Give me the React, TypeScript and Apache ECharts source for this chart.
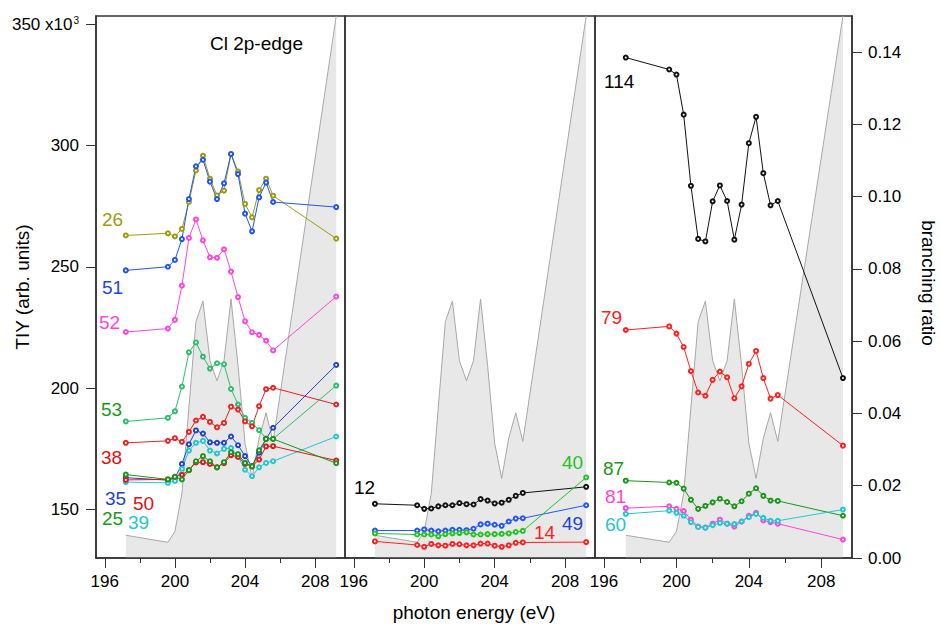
import React, { useEffect, useRef } from "react";
import * as echarts from "echarts";

// photon energies (eV) shared by all curves
const energy = [197.2, 199.6, 200.0, 200.4, 200.8, 201.2, 201.6, 202.0, 202.4, 202.8, 203.2, 203.6, 204.0, 204.4, 204.8, 205.2, 205.6, 209.2];

// absorption (TIY shape, arbitrary units, shown grey in each panel)
const absorption = [4.2, 2.9, 4.9, 11.9, 27.8, 43.6, 47.4, 36.4, 32.7, 36.4, 47.8, 35.5, 21.2, 14.7, 22.1, 26.8, 21.5, 100];

// panel 1: TIY (x10^3)
const tiy26 = [263.0, 263.9, 262.6, 265.7, 276.8, 289.8, 295.9, 286.4, 279.5, 281.5, 296.6, 289.4, 276.0, 270.5, 281.7, 286.4, 279.4, 261.7];
const tiy51 = [248.6, 250.1, 252.9, 261.5, 278.0, 291.5, 294.2, 285.2, 278.0, 284.5, 296.6, 288.3, 272.0, 264.7, 278.7, 284.8, 276.8, 274.7];
const tiy52 = [223.2, 224.6, 228.2, 242.3, 262.0, 269.6, 261.0, 254.0, 253.8, 257.3, 248.1, 237.6, 227.6, 223.1, 222.0, 219.6, 215.6, 237.8];
const tiy53 = [186.3, 187.8, 190.5, 200.7, 214.8, 218.9, 213.0, 208.1, 210.3, 209.9, 199.7, 193.3, 187.8, 185.7, 182.7, 179.3, 179.1, 201.1];
const tiy38 = [177.5, 178.3, 179.4, 177.9, 182.0, 186.7, 188.2, 186.1, 183.9, 185.7, 192.4, 191.2, 186.3, 184.3, 192.6, 199.6, 200.2, 193.3];
const tiy35 = [163.1, 162.1, 162.9, 168.8, 176.9, 182.6, 181.3, 177.7, 177.5, 177.5, 180.1, 176.5, 172.0, 167.8, 173.4, 179.1, 183.7, 209.6];
const tiy39 = [161.3, 161.0, 161.8, 166.8, 174.3, 177.5, 178.3, 174.3, 173.1, 175.0, 175.3, 172.0, 166.4, 163.7, 167.4, 169.2, 169.9, 180.1];
const tiy50 = [162.2, 162.4, 163.5, 164.3, 166.2, 169.4, 169.5, 168.8, 167.4, 169.1, 172.4, 171.7, 168.8, 167.8, 170.6, 176.0, 176.1, 170.2];
const tiy25 = [164.4, 162.4, 163.5, 162.4, 166.2, 169.9, 172.0, 169.9, 167.4, 169.5, 173.6, 172.8, 169.2, 167.8, 174.4, 179.1, 179.1, 169.1];

// panel 2: branching ratio
const br12 = [0.0150, 0.0146, 0.0136, 0.0137, 0.0143, 0.0146, 0.0146, 0.0152, 0.0149, 0.0148, 0.0163, 0.0159, 0.0151, 0.0153, 0.0161, 0.0172, 0.0180, 0.0197];
const br49 = [0.0076, 0.0076, 0.0079, 0.0076, 0.0074, 0.0076, 0.0078, 0.0078, 0.0077, 0.0081, 0.0093, 0.0095, 0.0092, 0.0089, 0.0101, 0.0109, 0.0110, 0.0146];
const br40 = [0.0068, 0.0065, 0.0065, 0.0065, 0.0060, 0.0066, 0.0068, 0.0069, 0.0071, 0.0065, 0.0065, 0.0066, 0.0066, 0.0067, 0.0068, 0.0072, 0.0075, 0.0223];
const br14 = [0.0046, 0.0036, 0.0031, 0.0039, 0.0035, 0.0034, 0.0039, 0.0038, 0.0035, 0.0035, 0.0040, 0.0040, 0.0034, 0.0031, 0.0035, 0.0042, 0.0043, 0.0044];

// panel 3: branching ratio
const br114 = [0.1385, 0.1352, 0.1338, 0.1227, 0.1030, 0.0883, 0.0876, 0.0987, 0.1031, 0.0988, 0.0881, 0.0978, 0.1148, 0.1221, 0.1065, 0.0976, 0.0988, 0.0498];
const br79 = [0.0631, 0.0641, 0.0621, 0.0584, 0.0517, 0.0458, 0.0449, 0.0493, 0.0516, 0.0500, 0.0442, 0.0475, 0.0537, 0.0573, 0.0498, 0.0441, 0.0451, 0.0311];
const br87 = [0.0214, 0.0209, 0.0208, 0.0192, 0.0161, 0.0136, 0.0144, 0.0154, 0.0164, 0.0155, 0.0143, 0.0157, 0.0178, 0.0193, 0.0172, 0.0159, 0.0158, 0.0117];
const br81 = [0.0138, 0.0143, 0.0136, 0.0130, 0.0106, 0.0087, 0.0084, 0.0095, 0.0106, 0.0095, 0.0087, 0.0101, 0.0117, 0.0125, 0.0104, 0.0099, 0.0095, 0.0051];
const br60 = [0.0122, 0.0131, 0.0125, 0.0117, 0.0099, 0.0086, 0.0084, 0.0091, 0.0097, 0.0095, 0.0094, 0.0101, 0.0113, 0.0122, 0.0111, 0.0103, 0.0103, 0.0134];

// tick values
const xMajorTicks = [196, 200, 204, 208];
const xMinorTicks = [198, 202, 206];
const tiyTicks = [150, 200, 250, 300, 350];
const brTicks = [0, 0.02, 0.04, 0.06, 0.08, 0.1, 0.12, 0.14];

const FONT = "'Liberation Sans', Arial, Helvetica, sans-serif";

const panel1 = [
  { name: "26", data: tiy26, color: "#9c9c10" },
  { name: "51", data: tiy51, color: "#1f55f0" },
  { name: "52", data: tiy52, color: "#ff44dd" },
  { name: "53", data: tiy53, color: "#2dbd6e" },
  { name: "38", data: tiy38, color: "#ee2222" },
  { name: "35", data: tiy35, color: "#2244cc" },
  { name: "39", data: tiy39, color: "#22c8d0" },
  { name: "50", data: tiy50, color: "#e01818" },
  { name: "25", data: tiy25, color: "#1a961a" },
];
const panel2 = [
  { name: "12", data: br12, color: "#111111" },
  { name: "49", data: br49, color: "#2255ff" },
  { name: "40", data: br40, color: "#22c422" },
  { name: "14", data: br14, color: "#ff2020" },
];
const panel3 = [
  { name: "114", data: br114, color: "#111111" },
  { name: "79", data: br79, color: "#ff2020" },
  { name: "87", data: br87, color: "#1a961a" },
  { name: "81", data: br81, color: "#ff44dd" },
  { name: "60", data: br60, color: "#22c8d0" },
];

const labels = [
  { t: "26", c: "#9c9c10", x: 102, y: 219 },
  { t: "51", c: "#1f45e0", x: 102, y: 287 },
  { t: "52", c: "#ff44dd", x: 99, y: 322 },
  { t: "53", c: "#1a9a1a", x: 101, y: 409 },
  { t: "38", c: "#dd1111", x: 101, y: 457 },
  { t: "35", c: "#2244cc", x: 105, y: 498 },
  { t: "50", c: "#dd1111", x: 133, y: 503 },
  { t: "25", c: "#1a9a1a", x: 102, y: 518 },
  { t: "39", c: "#22c8d0", x: 128, y: 522 },
  { t: "12", c: "#000000", x: 354, y: 487 },
  { t: "40", c: "#22c422", x: 562, y: 462 },
  { t: "49", c: "#2244cc", x: 562, y: 523 },
  { t: "14", c: "#ff2020", x: 534, y: 532 },
  { t: "114", c: "#000000", x: 604, y: 81 },
  { t: "79", c: "#ff2020", x: 601, y: 317 },
  { t: "87", c: "#1a961a", x: 603, y: 468 },
  { t: "81", c: "#ff44dd", x: 605, y: 496 },
  { t: "60", c: "#22c8d0", x: 605, y: 524 },
];

function pairs(vals: number[]) {
  return energy.map((e, i) => [e, vals[i]]);
}

export default function App() {
  const ref = useRef<HTMLDivElement>(null);
  useEffect(() => {
    if (!ref.current) return;
    const chart = echarts.init(ref.current, null, { renderer: "svg" });

    const grids = [
      { left: 96, top: 16, width: 249, height: 542 },
      { left: 345, top: 16, width: 250, height: 542 },
      { left: 595, top: 16, width: 257, height: 542 },
    ].map((g) => ({ ...g, show: true, borderColor: "#333", borderWidth: 1.5, backgroundColor: "transparent" }));

    const xAxes: any[] = [];
    [0, 1, 2].forEach((gi) => {
      xAxes.push({
        type: "value", gridIndex: gi, min: 195.5, max: 209.7, position: "bottom", z: 3,
        axisLine: { show: true, lineStyle: { color: "#333", width: 1.5 } },
        axisTick: { show: true, length: 10, customValues: xMajorTicks, lineStyle: { color: "#333", width: 1 } },
        axisLabel: { show: true, customValues: xMajorTicks, margin: 15, fontSize: 17, color: "#000", fontFamily: FONT },
        splitLine: { show: false },
      });
      xAxes.push({
        type: "value", gridIndex: gi, min: 195.5, max: 209.7, position: "bottom", z: 3,
        axisLine: { show: false },
        axisTick: { show: true, length: 5, customValues: xMinorTicks, lineStyle: { color: "#333", width: 1 } },
        axisLabel: { show: false },
        splitLine: { show: false },
      });
    });

    const hiddenY = (gi: number, min: number, max: number) => ({
      type: "value", gridIndex: gi, min, max, show: false, splitLine: { show: false },
    });

    const yAxes: any[] = [
      {
        type: "value", gridIndex: 0, min: 130, max: 353.5, position: "left", z: 3,
        axisLine: { show: true, lineStyle: { color: "#333", width: 1.5 } },
        axisTick: { show: true, length: 10, customValues: tiyTicks, lineStyle: { color: "#333" } },
        axisLabel: {
          customValues: tiyTicks, margin: 17, fontSize: 17, color: "#000", fontFamily: FONT,
          formatter: (v: number) => (v === 350 ? "{n|350 x10}{s|3}" : String(v)),
          rich: {
            n: { fontSize: 17, fontFamily: FONT, color: "#000" },
            s: { fontSize: 10, fontFamily: FONT, color: "#000", verticalAlign: "top", padding: [0, 0, 6, 1] },
          },
        },
        splitLine: { show: false },
      },
      hiddenY(0, 0, 100),
      hiddenY(1, 0, 0.15),
      hiddenY(1, 0, 100),
      {
        type: "value", gridIndex: 2, min: 0, max: 0.15, position: "right", z: 3,
        axisLine: { show: true, lineStyle: { color: "#333", width: 1.5 } },
        axisTick: { show: true, length: 10, customValues: brTicks, lineStyle: { color: "#333" } },
        axisLabel: {
          customValues: brTicks, margin: 16, fontSize: 17, color: "#000", fontFamily: FONT,
          formatter: (v: number) => v.toFixed(2),
        },
        splitLine: { show: false },
      },
      hiddenY(2, 0, 100),
    ];

    const absSeries = (xi: number, yi: number) => ({
      type: "line", xAxisIndex: xi, yAxisIndex: yi, data: pairs(absorption),
      symbol: "none", silent: true, z: 1,
      lineStyle: { color: "#a8a8a8", width: 1 },
      areaStyle: { color: "#e8e8e8", opacity: 1 },
    });

    const curve = (s: any, xi: number, yi: number) => ({
      type: "line", name: s.name, xAxisIndex: xi, yAxisIndex: yi, data: pairs(s.data),
      symbol: "emptyCircle", symbolSize: 4, z: 4,
      lineStyle: { color: s.color, width: 1 },
      itemStyle: { color: s.color, borderColor: s.color, borderWidth: 1 },
    });

    const series: any[] = [
      absSeries(0, 1),
      absSeries(2, 3),
      absSeries(4, 5),
      ...panel1.map((s) => curve(s, 0, 0)),
      ...panel2.map((s) => curve(s, 2, 2)),
      ...panel3.map((s) => curve(s, 4, 4)),
    ];

    const graphics: any[] = labels.map((l) => ({
      type: "text", x: l.x, y: l.y, z: 10,
      style: { text: l.t, fill: l.c, fontSize: 19, fontFamily: FONT, align: "left", verticalAlign: "middle" },
    }));
    graphics.push(
      { type: "text", x: 210, y: 43, z: 10, style: { text: "Cl 2p-edge", fill: "#000", fontSize: 19, fontFamily: FONT, align: "left", verticalAlign: "middle" } },
      { type: "text", x: 22, y: 287, rotation: Math.PI / 2, z: 10, style: { text: "TIY (arb. units)", fill: "#000", fontSize: 19, fontFamily: FONT, align: "center", verticalAlign: "middle" } },
      { type: "text", x: 928, y: 283, rotation: -Math.PI / 2, z: 10, style: { text: "branching ratio", fill: "#000", fontSize: 19, fontFamily: FONT, align: "center", verticalAlign: "middle" } },
      { type: "text", x: 474, y: 612, z: 10, style: { text: "photon energy (eV)", fill: "#000", fontSize: 19, fontFamily: FONT, align: "center", verticalAlign: "middle" } },
    );

    chart.setOption({
      animation: false,
      backgroundColor: "#ffffff",
      grid: grids,
      xAxis: xAxes,
      yAxis: yAxes,
      series,
      graphic: { elements: graphics },
    });
    return () => chart.dispose();
  }, []);
  return <div ref={ref} style={{ position: "fixed", left: 0, top: 0, width: 940, height: 624 }} />;
}
